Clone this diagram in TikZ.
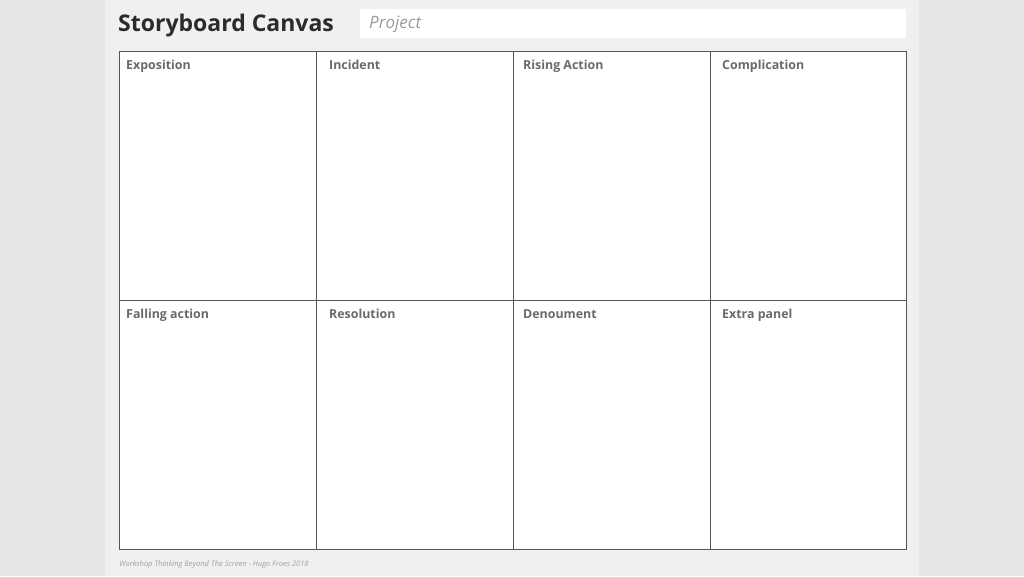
\documentclass[tikz,border=0pt]{standalone}
\usepackage{fontspec}
\setmainfont{Open Sans}
\definecolor{outerbg}{HTML}{E5E5E5}
\definecolor{panelbg}{HTML}{F0F0F0}
\definecolor{gridline}{HTML}{555555}
\definecolor{labelgray}{HTML}{6A6A6A}
\definecolor{titlec}{HTML}{2B2B2B}
\definecolor{projc}{HTML}{9A9A9A}
\definecolor{footc}{HTML}{A0A0A0}
\begin{document}
\begin{tikzpicture}[x=1pt,y=-1pt,
  cell/.style={draw=gridline,line width=1pt,fill=white},
  lbl/.style={anchor=base west,inner sep=0pt,text=labelgray,font=\fontsize{12.4}{15}\selectfont\bfseries},
  ]
\useasboundingbox (0,0) rectangle (1024,576);
\fill[outerbg] (0,0) rectangle (1024,576);
\fill[panelbg] (105,0) rectangle (919,576);
\node[anchor=base west,inner sep=0pt,text=titlec,font=\fontsize{23}{27}\selectfont\bfseries] (title) at (118,31) {Storyboard Canvas};
\fill[white] (360,9) rectangle (906,38);
\node[anchor=base west,inner sep=0pt,text=projc,font=\fontsize{17}{20}\selectfont\itshape] (proj) at (369,28) {Project};
% cells
\draw[cell] (119,51) rectangle (316,300);
\draw[cell] (316,51) rectangle (513,300);
\draw[cell] (513,51) rectangle (710,300);
\draw[cell] (710,51) rectangle (906,300);
\draw[cell] (119,300) rectangle (316,549);
\draw[cell] (316,300) rectangle (513,549);
\draw[cell] (513,300) rectangle (710,549);
\draw[cell] (710,300) rectangle (906,549);
\node[lbl] (l1) at (126,69) {Exposition};
\node[lbl] (l2) at (329,69) {Incident};
\node[lbl] (l3) at (523,69) {Rising Action};
\node[lbl] (l4) at (722,69) {Complication};
\node[lbl] (l5) at (126,318) {Falling action};
\node[lbl] (l6) at (329,318) {Resolution};
\node[lbl] (l7) at (523,318) {Denoument};
\node[lbl] (l8) at (722,318) {Extra panel};
\node[anchor=base west,inner sep=0pt,text=footc,font=\fontsize{7.5}{9}\selectfont\itshape] (foot) at (119,566) {Workshop Thinking Beyond The Screen - Hugo Froes 2018};
\end{tikzpicture}
\end{document}
